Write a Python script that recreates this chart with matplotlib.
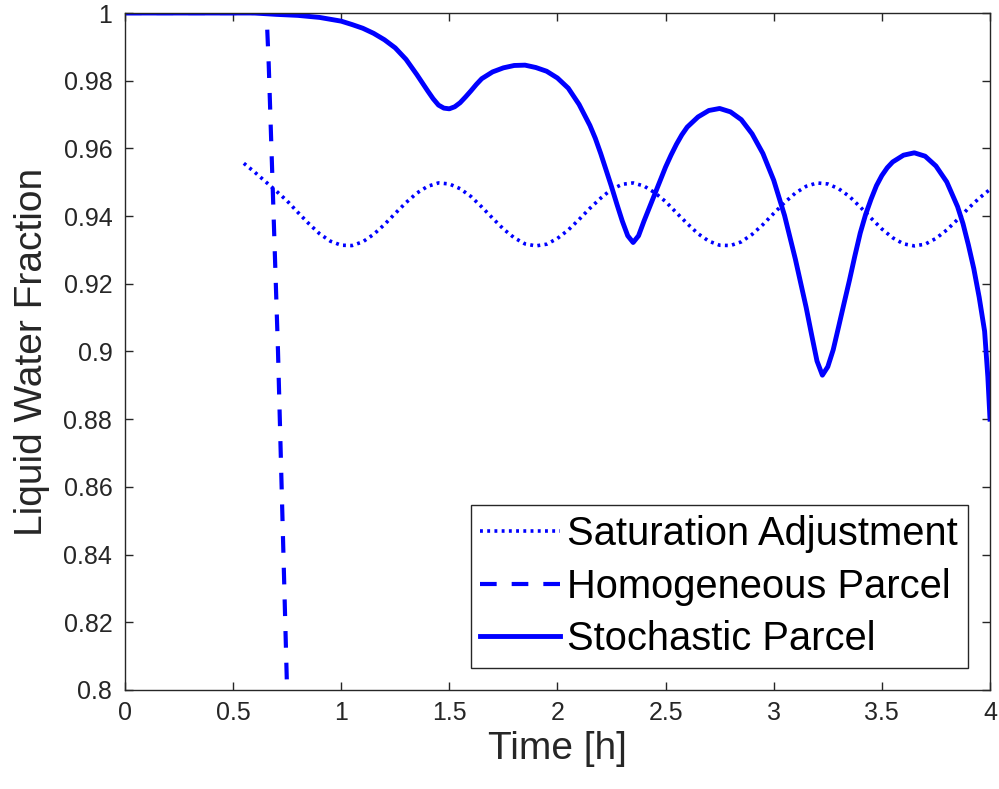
import matplotlib
matplotlib.use("Agg")
import matplotlib.pyplot as plt
from matplotlib.ticker import FuncFormatter

plt.rcParams['font.family'] = ['Liberation Sans', 'DejaVu Sans']

# saturation adjustment (dotted)
t_sat = [0.55, 0.60, 0.65, 0.70, 0.75, 0.80, 0.85, 0.90, 0.95, 1.00,
         1.05, 1.10, 1.15, 1.20, 1.25, 1.30, 1.35, 1.40, 1.45, 1.50,
         1.55, 1.60, 1.65, 1.70, 1.75, 1.80, 1.85, 1.90, 1.95, 2.00,
         2.05, 2.10, 2.15, 2.20, 2.25, 2.30, 2.35, 2.40, 2.45, 2.50,
         2.55, 2.60, 2.65, 2.70, 2.75, 2.80, 2.85, 2.90, 2.95, 3.00,
         3.05, 3.10, 3.15, 3.20, 3.25, 3.30, 3.35, 3.40, 3.45, 3.50,
         3.55, 3.60, 3.65, 3.70, 3.75, 3.80, 3.85, 3.90, 3.95, 4.00]
lwf_sat = [0.9556, 0.9530, 0.9502, 0.9474, 0.9445, 0.9411, 0.9378, 0.9348, 0.9326, 0.9314,
           0.9313, 0.9324, 0.9346, 0.9375, 0.9408, 0.9440, 0.9468, 0.9488, 0.9498, 0.9495,
           0.9481, 0.9458, 0.9427, 0.9394, 0.9362, 0.9336, 0.9318, 0.9312, 0.9317, 0.9334,
           0.9359, 0.9390, 0.9423, 0.9453, 0.9479, 0.9494, 0.9498, 0.9489, 0.9469, 0.9443,
           0.9410, 0.9378, 0.9348, 0.9326, 0.9314, 0.9313, 0.9324, 0.9346, 0.9375, 0.9408,
           0.9440, 0.9468, 0.9488, 0.9498, 0.9495, 0.9481, 0.9458, 0.9427, 0.9394, 0.9362,
           0.9336, 0.9318, 0.9312, 0.9317, 0.9334, 0.9359, 0.9390, 0.9423, 0.9453, 0.9479]

# homogeneous parcel (dashed)
t_hom = [0.0, 0.655, 0.665, 0.708, 0.752]
lwf_hom = [1.0, 1.0, 0.985, 0.90, 0.795]

# stochastic parcel (solid)
t_sto = [0.0, 0.60, 0.70, 0.80, 0.90, 1.00, 1.05, 1.10, 1.15, 1.20,
         1.25, 1.30, 1.35, 1.375, 1.40, 1.425, 1.45, 1.475, 1.50, 1.525,
         1.55, 1.575, 1.60, 1.625, 1.65, 1.70, 1.75, 1.80, 1.85, 1.90,
         1.95, 2.00, 2.05, 2.10, 2.15, 2.175, 2.20, 2.25, 2.275, 2.30,
         2.325, 2.35, 2.375, 2.40, 2.425, 2.45, 2.475, 2.50, 2.525, 2.55,
         2.575, 2.60, 2.65, 2.70, 2.75, 2.80, 2.85, 2.90, 2.95, 3.00,
         3.05, 3.10, 3.15, 3.175, 3.20, 3.225, 3.25, 3.275, 3.30, 3.325,
         3.35, 3.375, 3.40, 3.425, 3.45, 3.475, 3.50, 3.525, 3.55, 3.60,
         3.65, 3.70, 3.75, 3.80, 3.85, 3.875, 3.90, 3.925, 3.95, 3.975,
         3.99, 4.00]
lwf_sto = [1.0, 1.0, 0.9996, 0.9993, 0.9987, 0.9976, 0.9966, 0.9955, 0.9940, 0.9921,
           0.9897, 0.9863, 0.9818, 0.9794, 0.9770, 0.9747, 0.9728, 0.9719, 0.9717, 0.9723,
           0.9735, 0.9752, 0.9770, 0.9789, 0.9806, 0.9826, 0.9838, 0.9845, 0.9846, 0.9839,
           0.9828, 0.9808, 0.9778, 0.9730, 0.9668, 0.9630, 0.9585, 0.9487, 0.9435, 0.9385,
           0.9342, 0.9322, 0.9342, 0.9385, 0.9425, 0.9465, 0.9505, 0.9545, 0.9580, 0.9612,
           0.9640, 0.9663, 0.9693, 0.9712, 0.9718, 0.9708, 0.9685, 0.9643, 0.9585, 0.9506,
           0.9402, 0.9273, 0.9130, 0.9050, 0.8972, 0.8930, 0.8955, 0.9005, 0.9073, 0.9142,
           0.9210, 0.9282, 0.9350, 0.9405, 0.9450, 0.9490, 0.9520, 0.9543, 0.9560, 0.9580,
           0.9587, 0.9577, 0.9548, 0.9501, 0.9428, 0.9378, 0.9315, 0.9245, 0.9160, 0.9060,
           0.8925, 0.8800]

x_ticks = [0, 0.5, 1, 1.5, 2, 2.5, 3, 3.5, 4]
y_ticks = [0.8, 0.82, 0.84, 0.86, 0.88, 0.9, 0.92, 0.94, 0.96, 0.98, 1.0]

fig = plt.figure(figsize=(9.99, 7.89), dpi=100)
ax = fig.add_axes([0.125, 0.1255, 0.866, 0.858])

blue = (0, 0, 1)
ax.plot(t_sat, lwf_sat, color=blue, lw=2.6, linestyle=(0, (0.8, 1.2)),
        label="Saturation Adjustment")
ax.plot(t_hom, lwf_hom, color=blue, lw=3.0, linestyle=(0, (4.0, 3.6)),
        label="Homogeneous Parcel")
ax.plot(t_sto, lwf_sto, color=blue, lw=3.5, solid_joinstyle="round",
        label="Stochastic Parcel")

ax.set_xlim(0, 4)
ax.set_ylim(0.8, 1.0)
ax.set_xticks(x_ticks)
ax.set_yticks(y_ticks)
fmt = FuncFormatter(lambda v, p: "%g" % round(v, 2))
ax.xaxis.set_major_formatter(fmt)
ax.yaxis.set_major_formatter(fmt)

gray = "#262626"
for s in ax.spines.values():
    s.set_color(gray)
    s.set_linewidth(1.0)
ax.tick_params(direction="in", length=6, width=1.0, color=gray,
               labelcolor=gray, labelsize=18, top=True, right=True)
ax.tick_params(axis="y", pad=9)
ax.tick_params(axis="x", pad=8)

ax.set_xlabel("Time [h]", fontsize=28, color=gray, labelpad=4)
ax.set_ylabel("Liquid Water Fraction", fontsize=28, color=gray, labelpad=10)

leg = ax.legend(loc="lower right", fontsize=28.7, handlelength=2.0,
                handletextpad=0.18, labelspacing=0.36, borderpad=0.25,
                borderaxespad=0.55, fancybox=False, framealpha=1)
leg.get_frame().set_edgecolor(gray)
leg.get_frame().set_linewidth(1.0)

fig.savefig("out.png", dpi=100)
